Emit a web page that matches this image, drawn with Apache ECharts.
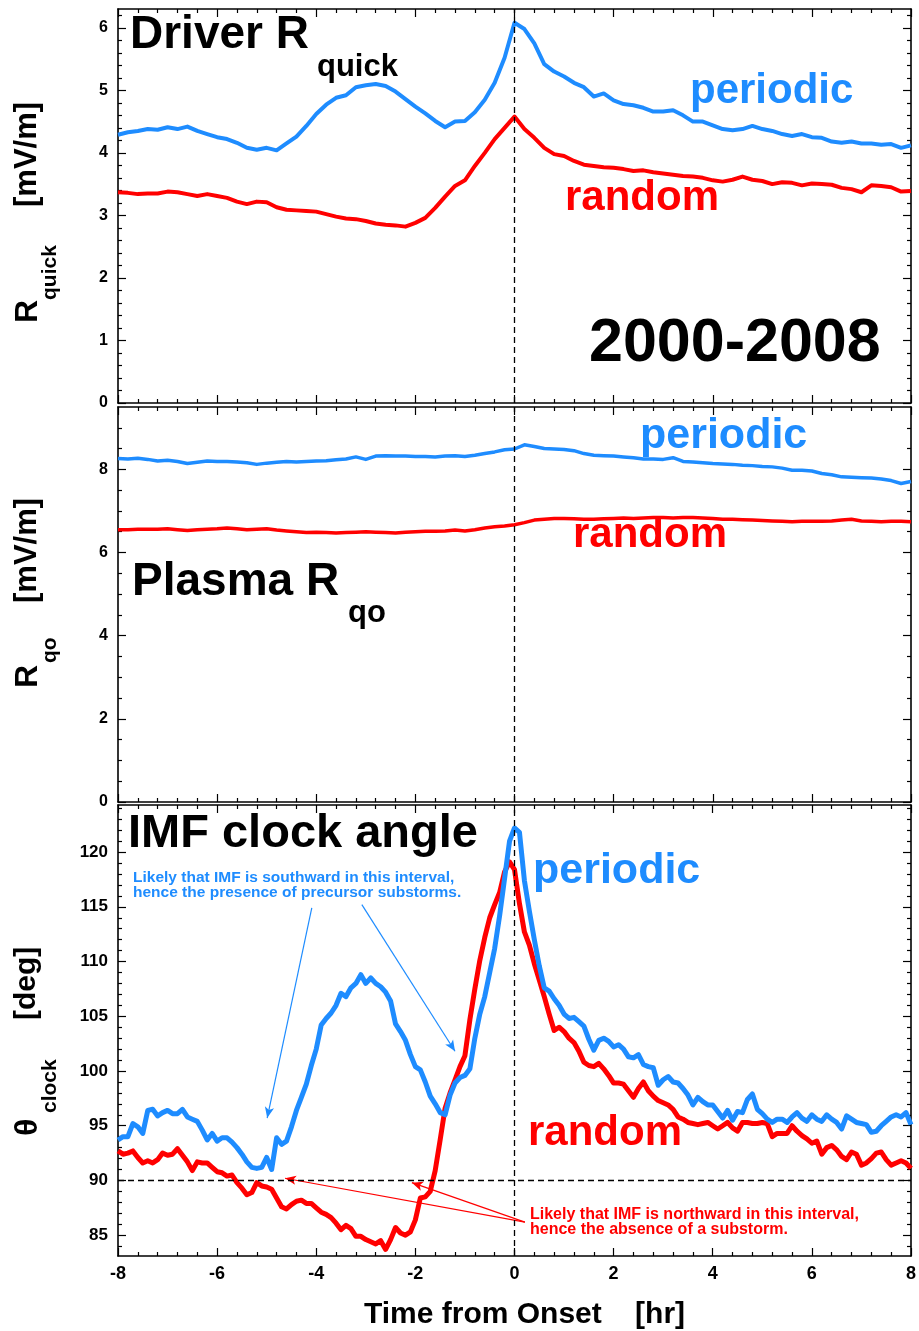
<!DOCTYPE html>
<html>
<head>
<meta charset="utf-8">
<script src="https://cdn.jsdelivr.net/npm/echarts@6/dist/echarts.min.js"></script>
<style>
  html, body { margin: 0; padding: 0; background: #fff; }
  #chart { width: 919px; height: 1331px; }
</style>
</head>
<body>
<div id="chart"></div>
<script>
// Superposed-epoch averages around substorm onset, 2000-2008.
// Samples start at -8 hr; panels 1-2 every 0.2 hr, panel 3 every 0.1 hr.
const T_START = -8;
const STEP_COARSE = 0.2;
const STEP_FINE = 0.1;

// Driver R_quick [mV/m]
const rquickPeriodic = [
  4.29, 4.33, 4.35, 4.38, 4.37, 4.41, 4.38, 4.42, 4.35, 4.30,
  4.25, 4.22, 4.16, 4.08, 4.05, 4.08, 4.04, 4.15, 4.26, 4.43,
  4.62, 4.77, 4.88, 4.92, 5.05, 5.08, 5.10, 5.07, 4.98, 4.86,
  4.74, 4.63, 4.51, 4.41, 4.50, 4.51, 4.65, 4.85, 5.12, 5.52,
  6.08, 5.98, 5.75, 5.42, 5.30, 5.22, 5.12, 5.05, 4.90, 4.95,
  4.84, 4.78, 4.76, 4.72, 4.66, 4.66, 4.68, 4.60, 4.50, 4.50,
  4.44, 4.38, 4.36, 4.38, 4.43, 4.38, 4.35, 4.30, 4.27, 4.30,
  4.25, 4.24, 4.18, 4.16, 4.18, 4.15, 4.15, 4.13, 4.14, 4.08,
  4.12
];
const rquickRandom = [
  3.37, 3.36, 3.34, 3.35, 3.35, 3.38, 3.37, 3.34, 3.31, 3.34,
  3.31, 3.28, 3.22, 3.18, 3.22, 3.21, 3.13, 3.09, 3.08, 3.07,
  3.06, 3.02, 2.98, 2.95, 2.94, 2.91, 2.87, 2.85, 2.84, 2.82,
  2.88, 2.96, 3.12, 3.30, 3.47, 3.56, 3.79, 4.00, 4.22, 4.40,
  4.58, 4.38, 4.24, 4.08, 3.98, 3.95, 3.87, 3.81, 3.79, 3.77,
  3.76, 3.74, 3.71, 3.72, 3.69, 3.67, 3.65, 3.63, 3.62, 3.60,
  3.56, 3.54, 3.57, 3.62, 3.57, 3.55, 3.50, 3.53, 3.52, 3.48,
  3.51, 3.50, 3.49, 3.44, 3.42, 3.37, 3.48, 3.47, 3.45, 3.38,
  3.39
];

// Plasma R_qo [mV/m]
const rqoPeriodic = [
  8.26, 8.25, 8.27, 8.24, 8.20, 8.22, 8.19, 8.14, 8.17, 8.20,
  8.19, 8.19, 8.18, 8.16, 8.12, 8.15, 8.17, 8.19, 8.18, 8.19,
  8.20, 8.21, 8.23, 8.25, 8.30, 8.24, 8.32, 8.33, 8.32, 8.32,
  8.31, 8.31, 8.30, 8.32, 8.33, 8.31, 8.34, 8.38, 8.42, 8.47,
  8.49, 8.59, 8.55, 8.50, 8.49, 8.48, 8.45, 8.38, 8.34, 8.33,
  8.32, 8.30, 8.28, 8.25, 8.25, 8.24, 8.28, 8.19, 8.18, 8.16,
  8.14, 8.13, 8.12, 8.10, 8.09, 8.07, 8.06, 8.03, 7.98, 7.98,
  7.96, 7.90, 7.87, 7.82, 7.81, 7.80, 7.79, 7.77, 7.73, 7.66,
  7.71
];
const rqoRandom = [
  6.55, 6.55, 6.56, 6.56, 6.56, 6.57, 6.55, 6.53, 6.55, 6.56,
  6.57, 6.59, 6.57, 6.55, 6.56, 6.57, 6.54, 6.52, 6.50, 6.48,
  6.49, 6.48, 6.47, 6.48, 6.49, 6.50, 6.49, 6.48, 6.47, 6.49,
  6.50, 6.51, 6.51, 6.52, 6.54, 6.52, 6.55, 6.59, 6.62, 6.64,
  6.67, 6.72, 6.78, 6.80, 6.82, 6.82, 6.81, 6.80, 6.80, 6.81,
  6.82, 6.83, 6.82, 6.83, 6.84, 6.84, 6.83, 6.84, 6.84, 6.83,
  6.82, 6.80, 6.80, 6.79, 6.78, 6.77, 6.76, 6.75, 6.74, 6.75,
  6.75, 6.75, 6.76, 6.78, 6.80, 6.76, 6.75, 6.74, 6.75, 6.75,
  6.74
];

// IMF clock angle theta_clock [deg]
const clockPeriodic = [
  93.7, 94.0, 94.0, 95.2, 94.9, 94.3, 96.4, 96.5, 95.9, 96.2,
  96.4, 96.1, 96.1, 96.5, 95.8, 95.6, 95.4, 94.6, 93.7, 94.3,
  93.6, 93.9, 93.9, 93.5, 93.0, 92.4, 91.7, 91.2, 91.1, 91.2,
  92.1, 91.0, 93.9, 93.3, 93.6, 94.9, 96.4, 97.6, 98.8, 100.5,
  102.0, 104.2, 104.8, 105.3, 106.0, 107.1, 106.8, 107.6, 108.0, 108.8,
  108.0, 108.5, 108.0, 107.7, 107.2, 106.4, 104.3, 103.6, 102.8, 101.5,
  100.4, 100.1, 99.0, 97.7, 97.0, 96.2, 96.0, 97.8, 98.9, 99.4,
  99.6, 100.2, 103.0, 105.2, 106.8, 109.0, 111.2, 114.2, 117.6, 121.0,
  122.2, 121.8, 117.4, 114.6, 112.0, 109.6, 107.6, 107.3, 106.6, 106.0,
  105.2, 104.8, 104.9, 104.5, 104.1, 102.9, 101.9, 102.8, 103.0, 102.7,
  102.2, 102.4, 102.0, 101.3, 101.2, 101.5, 100.6, 100.4, 100.3, 98.7,
  99.2, 99.5, 99.0, 98.9, 98.4, 97.8, 96.9, 97.6, 97.2, 96.9,
  96.9, 96.3, 95.7, 96.4, 95.5, 96.3, 96.2, 97.4, 97.9, 96.5,
  96.1, 95.6, 95.3, 95.6, 95.6, 95.3, 95.8, 96.2, 95.7, 95.4,
  96.0, 95.6, 95.4, 96.0, 95.6, 95.3, 94.7, 95.9, 95.6, 95.3,
  95.2, 95.1, 94.4, 94.5, 95.0, 95.4, 95.8, 96.0, 95.8, 96.2,
  95.1
];
const clockRandom = [
  92.7, 92.4, 92.5, 92.7, 92.1, 91.6, 91.8, 91.6, 91.9, 92.5,
  92.3, 92.4, 92.9, 92.3, 91.7, 90.9, 91.7, 91.6, 91.6, 91.2,
  90.8, 90.7, 90.4, 90.5, 89.8, 89.3, 88.7, 88.9, 89.8, 89.5,
  89.4, 89.2, 88.4, 87.6, 87.4, 87.8, 88.1, 88.2, 87.9, 87.9,
  87.5, 87.1, 86.9, 86.6, 86.1, 85.5, 85.9, 85.6, 84.9, 84.9,
  84.6, 84.4, 84.2, 84.5, 83.7, 84.6, 85.7, 85.2, 85.0, 85.3,
  86.4, 88.4, 88.5, 89.0, 90.9, 93.7, 96.6, 98.0, 99.2, 100.4,
  101.4, 104.7, 107.5, 110.1, 112.2, 114.0, 115.2, 116.3, 118.2, 119.1,
  118.4, 115.3, 112.7, 111.5, 109.8, 108.3, 106.8, 105.2, 103.7, 104.0,
  103.6, 103.0, 102.6, 101.8, 100.8, 100.5, 100.4, 100.7, 100.2, 99.6,
  98.9, 98.9, 98.8, 98.2, 97.6, 98.4, 99.0, 98.2, 97.7, 97.3,
  97.1, 96.9, 96.5, 95.8, 95.6, 95.3, 95.2, 95.1, 95.2, 95.3,
  95.0, 94.7, 95.0, 95.3, 94.8, 94.5, 95.3, 95.3, 95.2, 95.2,
  95.3, 95.2, 94.0, 94.3, 94.3, 94.3, 95.0, 94.5, 94.1, 93.8,
  93.4, 93.6, 92.4, 93.0, 93.2, 92.8, 92.2, 91.9, 92.6, 92.4,
  91.4, 91.6, 92.0, 92.5, 92.6, 91.9, 91.4, 91.6, 91.8, 91.6,
  91.1
];

// Tick labels
const xTicks = [-8, -6, -4, -2, 0, 2, 4, 6, 8];
const rquickTicks = [0, 1, 2, 3, 4, 5, 6];
const rqoTicks = [0, 2, 4, 6, 8];
const clockTicks = [85, 90, 95, 100, 105, 110, 115, 120];

// Annotation arrows, [from, to] in (hr, deg)
const southwardArrows = [
  [[-4.09, 114.9], [-4.99, 95.7]],
  [[-3.08, 115.2], [-1.20, 101.8]]
];
const northwardArrows = [
  [[0.21, 86.2], [-2.07, 89.8]],
  [[0.21, 86.2], [-4.63, 90.2]]
];

const BLUE = '#1e8cff';
const RED = '#ff0000';
const FONT = '"Liberation Sans", Arial, Helvetica, sans-serif';

function pairs(values, step) {
  return values.map((v, i) => [Math.round((T_START + i * step) * 100) / 100, v]);
}

function minorValues(major, split, min, max) {
  const step = (major[1] - major[0]) / split;
  const out = [];
  let v = major[0];
  while (v - step > min + 1e-9) v -= step;
  for (; v < max - 1e-9; v += step) {
    const r = Math.round(v * 1000) / 1000;
    if (r > min + 1e-9 && !major.some(m => Math.abs(m - r) < 1e-6)) out.push(r);
  }
  return out;
}

const X_MIN = -8, X_MAX = 8;
const panels = [
  { top: 9,   height: 394, min: 0,    max: 6.3,   major: rquickTicks, split: 5, labelSize: 16 },
  { top: 407, height: 395, min: 0,    max: 9.5,   major: rqoTicks,    split: 4, labelSize: 16 },
  { top: 805, height: 452, min: 83.1, max: 124.3, major: clockTicks,  split: 5, labelSize: 17 }
];
const xMinor = minorValues(xTicks, 5, X_MIN, X_MAX);

function axis(g, position, min, max, ticks, isMinor, label) {
  return {
    type: 'value', gridIndex: g, position, min, max,
    axisLine: { show: !isMinor, onZero: false, lineStyle: { color: '#000', width: 1.6 } },
    axisTick: { show: true, inside: true, length: isMinor ? 4 : 8, customValues: ticks,
                lineStyle: { color: '#000', width: 1.2 } },
    axisLabel: label ? Object.assign({ show: true, customValues: ticks, color: '#000',
                fontWeight: 'bold', fontFamily: FONT }, label) : { show: false },
    splitLine: { show: false },
    minorTick: { show: false }
  };
}

const grids = [], xAxes = [], yAxes = [];
panels.forEach((p, g) => {
  grids.push({ left: 118, right: 8, top: p.top, height: p.height, show: false });
  const yMinor = minorValues(p.major, p.split, p.min, p.max);
  const xLabel = g === 2 ? { fontSize: 18, margin: 9 } : null;
  const xMain = axis(g, 'bottom', X_MIN, X_MAX, xTicks, false, xLabel);
  if (g === 2) {
    xMain.name = 'Time from Onset    [hr]';
    xMain.nameLocation = 'middle';
    xMain.nameGap = 44;
    xMain.nameTextStyle = { fontSize: 30, fontWeight: 'bold', color: '#000',
                            fontFamily: FONT, padding: [0, 0, 0, 20] };
  }
  xAxes.push(xMain,
             axis(g, 'bottom', X_MIN, X_MAX, xMinor, true, null),
             axis(g, 'top', X_MIN, X_MAX, xTicks, false, null),
             axis(g, 'top', X_MIN, X_MAX, xMinor, true, null));
  yAxes.push(axis(g, 'left', p.min, p.max, p.major, false, { fontSize: p.labelSize, margin: 10 }),
             axis(g, 'left', p.min, p.max, yMinor, true, null),
             axis(g, 'right', p.min, p.max, p.major, false, null),
             axis(g, 'right', p.min, p.max, yMinor, true, null));
});

const dashed = { color: '#000', type: [6, 4], width: 1.3 };
const onsetLine = { silent: true, symbol: ['none', 'none'], label: { show: false },
                    lineStyle: dashed, data: [{ xAxis: 0 }] };

function arrowItems(list, color) {
  return list.map(([a, b]) => [
    { coord: a, symbol: 'none', lineStyle: { color, width: 1.2, type: 'solid' } },
    { coord: b, symbol: 'arrow', symbolSize: [7, 11] }
  ]);
}

function line(g, values, step, color, width, markLine) {
  const s = {
    type: 'line', xAxisIndex: 4 * g, yAxisIndex: 4 * g,
    data: pairs(values, step), showSymbol: false, symbol: 'none',
    lineStyle: { color, width, join: 'round' }, itemStyle: { color },
    animation: false, z: 3
  };
  if (markLine) s.markLine = markLine;
  return s;
}

const series = [
  line(0, rquickPeriodic, STEP_COARSE, BLUE, 4, onsetLine),
  line(0, rquickRandom, STEP_COARSE, RED, 4),
  line(1, rqoPeriodic, STEP_COARSE, BLUE, 3.5, onsetLine),
  line(1, rqoRandom, STEP_COARSE, RED, 3.5),
  line(2, clockRandom, STEP_FINE, RED, 5, {
    silent: true, label: { show: false }, symbol: ['none', 'arrow'],
    data: arrowItems(northwardArrows, RED)
  }),
  line(2, clockPeriodic, STEP_FINE, BLUE, 5, {
    silent: true, label: { show: false }, symbol: ['none', 'arrow'],
    data: [
      [{ xAxis: 0, yAxis: 83.1, symbol: 'none', lineStyle: dashed }, { xAxis: 0, yAxis: 124.3, symbol: 'none' }],
      [{ xAxis: -8, yAxis: 90, symbol: 'none', lineStyle: dashed }, { xAxis: 8, yAxis: 90, symbol: 'none' }]
    ].concat(arrowItems(southwardArrows, BLUE))
  })
];

function txt(text, x, y, size, color, extra) {
  return Object.assign({
    type: 'text', x, y, z: 10, silent: true,
    style: { text, fill: color, font: 'bold ' + size + 'px ' + FONT,
             textAlign: 'left', textVerticalAlign: 'middle' }
  }, extra || {});
}
function vtxt(text, x, y, size) {
  return txt(text, x, y, size, '#000', { rotation: Math.PI / 2 });
}

const graphics = [
  // panel titles
  txt('Driver R', 130, 35, 46, '#000'),
  txt('quick', 317, 67, 31, '#000'),
  txt('2000-2008', 589, 344, 61, '#000'),
  txt('Plasma R', 132, 582, 46, '#000'),
  txt('qo', 348, 613, 31, '#000'),
  txt('IMF clock angle', 128, 834, 47, '#000'),
  // series names
  txt('periodic', 690, 91, 42, BLUE),
  txt('random', 565, 198, 42, RED),
  txt('periodic', 640, 436, 43, BLUE),
  txt('random', 573, 535, 42, RED),
  txt('periodic', 533, 871, 43, BLUE),
  txt('random', 528, 1133, 42, RED),
  // annotations
  txt('Likely that IMF is southward in this interval,', 133, 878, 15.5, BLUE),
  txt('hence the presence of precursor substorms.', 133, 893, 15.5, BLUE),
  txt('Likely that IMF is northward in this interval,', 530, 1215, 16, RED),
  txt('hence the absence of a substorm.', 530, 1230, 16, RED),
  // y-axis titles
  vtxt('R', 28, 323, 32), vtxt('quick', 50, 300, 21), vtxt('[mV/m]', 27, 207, 31),
  vtxt('R', 28, 688, 32), vtxt('qo', 50, 663, 21), vtxt('[mV/m]', 27, 603, 31),
  vtxt('θ', 28, 1136, 32), vtxt('clock', 50, 1113, 21), vtxt('[deg]', 27, 1020, 30)
];

const chart = echarts.init(document.getElementById('chart'), null, { renderer: 'canvas' });
chart.setOption({
  backgroundColor: '#fff',
  animation: false,
  grid: grids,
  xAxis: xAxes,
  yAxis: yAxes,
  series,
  graphic: graphics
});
</script>
</body>
</html>
